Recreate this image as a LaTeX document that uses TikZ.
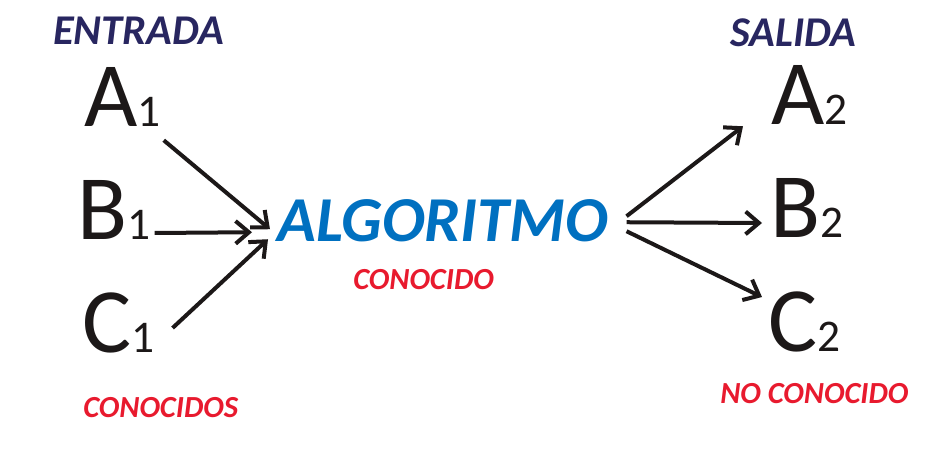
\documentclass[tikz,border=0pt]{standalone}
\usepackage{fontspec}
\setmainfont{Carlito}
\usetikzlibrary{arrows.meta, calc}
\definecolor{azul}{RGB}{0,112,192}
\definecolor{rojo}{RGB}{232,26,46}
\definecolor{marino}{RGB}{40,38,96}
\definecolor{negro}{RGB}{28,24,24}
\newcommand{\indice}[1]{{\fontsize{34}{34}\selectfont #1}}
\begin{document}
\begin{tikzpicture}[x=0.75pt, y=-0.75pt, inner sep=0pt, anchor=base west,
    letra/.style={text=negro, font=\fontsize{69}{69}\selectfont},
    titulo/.style={text=marino, font=\fontsize{31.8}{31.8}\selectfont\bfseries\itshape},
    nota/.style={text=rojo, font=\fontsize{23}{23}\selectfont\bfseries\itshape},
    flecha/.style={draw=negro, line width=3pt, -{Straight Barb[length=10pt, width=17pt]}}]
\useasboundingbox (0,0) rectangle (943,452);
\node [titulo] (entrada) at (53,45) {ENTRADA};
\node [titulo] (salida) at (730,47) {SALIDA};
\node [letra] (A1) at (84,127) {A\indice{1}};
\node [letra] (B1) at (77,240) {B\indice{1}};
\node [letra] (C1) at (82,353) {C\indice{1}};
\node [letra] (A2) at (771,125) {A\indice{2}};
\node [letra] (B2) at (770,238) {B\indice{2}};
\node [letra] (C2) at (768,352) {C\indice{2}};
\node [text=azul, font=\fontsize{48}{48}\selectfont\bfseries\itshape] (algo) at (277,242) {ALGORITMO};
\node [nota] (conocido) at (353,290) {CONOCIDO};
\node [nota] (conocidos) at (83,417) {CONOCIDOS};
\node [nota] (noconocido) at (720,403) {NO CONOCIDO};
\draw [flecha] ($(A1.south east)+(3,13)$) -- ($(algo.west)+(-7,8)$);
\draw [flecha] ($(B1.base east)+(4,-7)$) -- ($(algo.west)+(-25,11)$);
\draw [flecha] ($(C1.base east)+(18,-25)$) -- ($(algo.west)+(-9,18)$);
\draw [flecha] ($(algo.east)+(18,-5)$) -- ($(A2.south west)+(-28,1)$);
\draw [flecha] ($(algo.east)+(18,1)$) -- ($(B2.base west)+(-8,-15)$);
\draw [flecha] ($(algo.east)+(18,10)$) -- ($(C2.north west)+(-6,5)$);
\end{tikzpicture}
\end{document}
